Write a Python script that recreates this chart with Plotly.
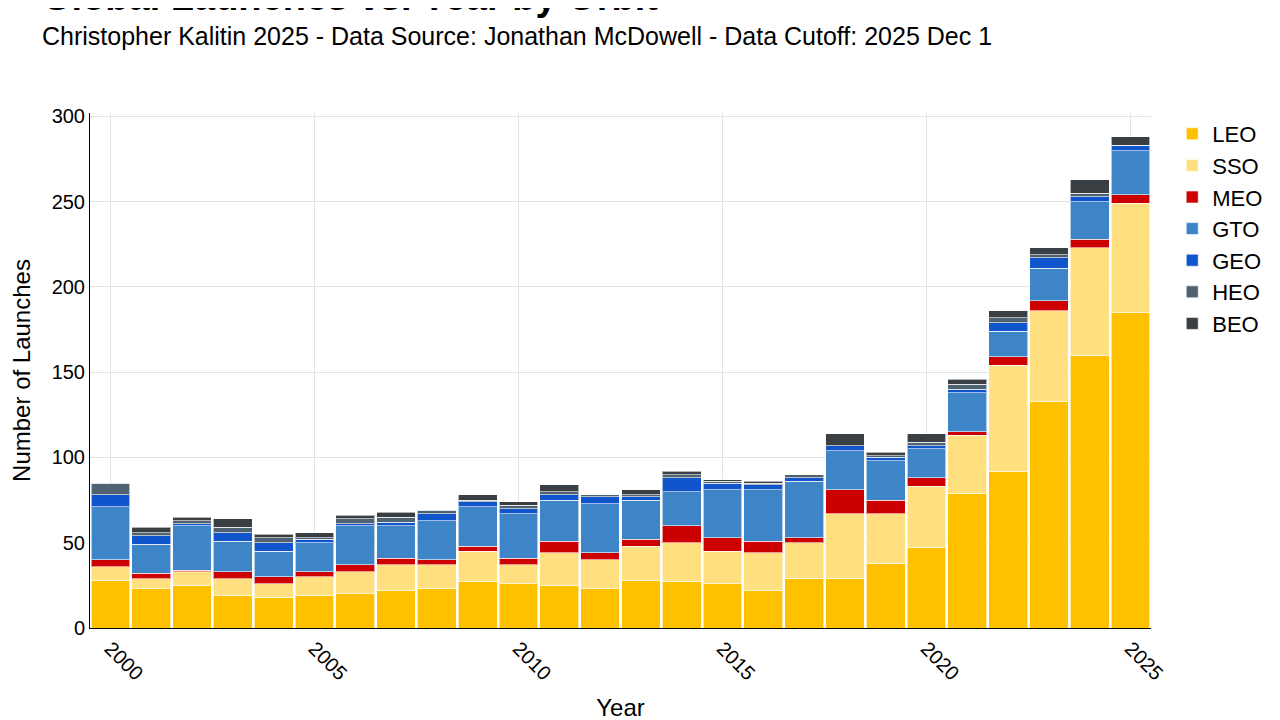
import plotly.graph_objects as go

years = list(range(2000, 2026))
leo = [28, 23, 25, 19, 18, 19, 20, 22, 23, 27, 26, 25, 23, 28, 27, 26, 22, 29, 29, 38, 47, 79, 92, 133, 160, 185]
sso = [8, 6, 8, 10, 8, 11, 13, 15, 14, 18, 11, 19, 17, 20, 23, 19, 22, 21, 38, 29, 36, 34, 62, 53, 63, 64]
meo = [4, 3, 1, 4, 4, 3, 4, 4, 3, 3, 4, 7, 4, 4, 10, 8, 7, 3, 14, 8, 5, 2, 5, 6, 5, 5]
gto = [31, 17, 26, 18, 15, 17, 23, 19, 23, 23, 26, 24, 29, 23, 20, 28, 30, 33, 23, 23, 17, 23, 15, 19, 22, 26]
geo = [7, 5, 1, 5, 5, 2, 1, 2, 4, 3, 3, 3, 4, 2, 8, 4, 3, 2, 3, 2, 2, 2, 5, 6, 3, 3]
heo = [7, 2, 2, 3, 3, 1, 3, 3, 2, 1, 2, 2, 1, 1, 2, 1, 1, 2, 0, 1, 2, 3, 3, 2, 2, 0]
beo = [0, 3, 2, 5, 2, 3, 2, 3, 0, 3, 2, 4, 0, 3, 2, 1, 1, 0, 7, 2, 5, 3, 4, 4, 8, 5]

series = [
    ("LEO", leo, "#FFC000"),
    ("SSO", sso, "#FFDF80"),
    ("MEO", meo, "#CC0000"),
    ("GTO", gto, "#3D85C6"),
    ("GEO", geo, "#1155CC"),
    ("HEO", heo, "#4F6272"),
    ("BEO", beo, "#3A3F44"),
]

fig = go.Figure()
for name, vals, color in series:
    fig.add_trace(go.Bar(x=years, y=vals, name=name, marker_color=color,
                         marker_line_color="rgba(255,255,255,0.6)", marker_line_width=1))

fig.update_layout(
    barmode="stack",
    bargap=0.05,
    width=1280, height=720,
    plot_bgcolor="white", paper_bgcolor="white",
    font=dict(family="Liberation Sans, Arial", size=20, color="black"),
    margin=dict(l=82, r=137, t=105, b=100),
    legend=dict(font=dict(size=22), x=1.02, y=1.0, traceorder="normal"),
)
fig.add_annotation(text="<b>Global Launches vs. Year by Orbit</b>", xref="paper", yref="paper",
                   x=-0.047, y=1.225, xanchor="left", yanchor="middle", showarrow=False,
                   font=dict(size=38))
fig.add_annotation(text="Christopher Kalitin 2025 - Data Source: Jonathan McDowell - Data Cutoff: 2025 Dec 1",
                   xref="paper", yref="paper", x=-0.047, y=1.15, xanchor="left", yanchor="middle",
                   showarrow=False, font=dict(size=25))
fig.update_xaxes(title_text="Year", tickangle=45, tickvals=[2000, 2005, 2010, 2015, 2020, 2025],
                 showgrid=True, gridcolor="#e3e3e3", showline=True, linecolor="black",
                 range=[1999.5, 2025.5])
fig.update_yaxes(title_text="Number of Launches", showgrid=True, gridcolor="#e3e3e3",
                 showline=True, linecolor="black", range=[0, 302], dtick=50, zeroline=False)

fig.write_html("out.html")
